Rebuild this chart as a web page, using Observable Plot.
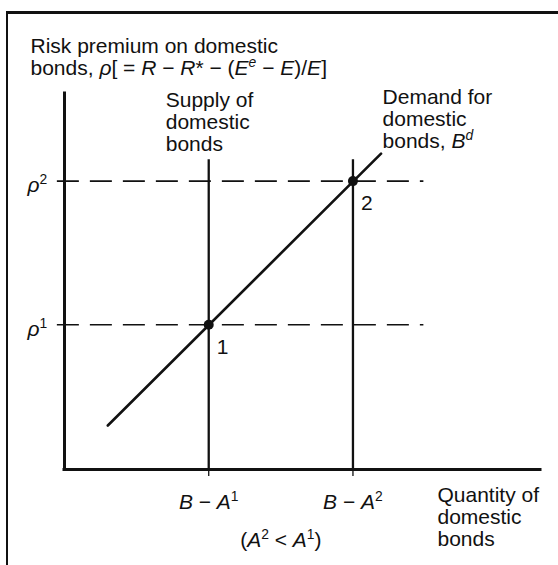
<!DOCTYPE html>
<html>
<head>
<meta charset="utf-8">
<script src="https://cdn.jsdelivr.net/npm/d3@7"></script>
<script src="https://cdn.jsdelivr.net/npm/@observablehq/plot@0.6"></script>
<style>
  html, body { margin: 0; padding: 0; background: #fff; }
  #wrap { position: relative; width: 558px; height: 565px; overflow: hidden; }
  #frame { position: absolute; left: 6px; top: 11px; width: 560px; height: 551px;
           border-left: 2.5px solid #111; border-top: 3px solid #111; border-bottom: 1px solid #888; box-sizing: content-box; }
  #chart { position: absolute; left: 0; top: 0; }
</style>
</head>
<body>
<div id="wrap"><div id="frame"></div><div id="chart"></div></div>
<script>
// ---- data ----
const yTitle = "Risk premium on domestic\nbonds, {i:ρ}[ = {i:R} − {i:R}* − ({i:E}{si:e} − {i:E})/{i:E}]";
const xTitle = "Quantity of\ndomestic\nbonds";
const supplyTitle = "Supply of\ndomestic\nbonds";
const demandTitle = "Demand for\ndomestic\nbonds, {i:B}{si:d}";
const noteLabel = "({i:A}{s:2} < {i:A}{s:1})";

const supplyLabels = ["{i:B} − {i:A}{s:1}", "{i:B} − {i:A}{s:2}"];
const supplyX = [30.3, 60.6];        // B − A¹, B − A²
const supplyTop = 82.4;              // top of the vertical supply lines
const rhoLabels = ["{i:ρ}{s:1}", "{i:ρ}{s:2}"];
const rhoY = [38.5, 76.7];           // ρ¹, ρ²
const pointLabels = ["1", "2"];
const demandX = [9.1, 66.5];         // demand line end points
const demandY = [11.7, 84.0];
const guideX = [-1.5, 75.5];         // extent of dashed guides
const axisMax = 100;

// ---- tables built from the arrays ----
const points = pointLabels.map((label, i) => ({label, x: supplyX[i], y: rhoY[i]}));
const demand = demandX.map((x, i) => ({x, y: demandY[i]}));
const demandEnd = [demand[demand.length - 1]];
const rhos = rhoY.map((y, i) => ({y, label: rhoLabels[i]}));
const supplies = supplyX.map((x, i) => ({x, label: supplyLabels[i]}));

const FS = 21;
const font = "'Liberation Sans', Arial, Helvetica, sans-serif";

const chart = Plot.plot({
  width: 558,
  height: 565,
  marginLeft: 64,
  marginRight: 18,
  marginTop: 93,
  marginBottom: 96,
  x: {domain: [0, axisMax]},
  y: {domain: [0, axisMax], axis: null},
  style: {fontFamily: font, fontSize: FS + "px", background: "transparent", color: "#111", overflow: "visible"},
  marks: [
    // dashed guides
    Plot.ruleY(rhos, {y: "y", x1: guideX[0], x2: guideX[1], stroke: "#111", strokeWidth: 1.6, strokeDasharray: "22,11"}),
    // supply verticals
    Plot.ruleX(supplies, {x: "x", y1: 0, y2: supplyTop, stroke: "#111", strokeWidth: 2.3}),
    // demand line
    Plot.line(demand, {x: "x", y: "y", stroke: "#111", strokeWidth: 2.6}),
    // axes lines
    Plot.ruleX([0], {y1: 0, y2: axisMax, stroke: "#111", strokeWidth: 3, strokeLinecap: "square"}),
    Plot.ruleY([0], {x1: 0, x2: axisMax, stroke: "#111", strokeWidth: 3, strokeLinecap: "square"}),
    Plot.axisX({ticks: supplyX, tickSize: 7, tickFormat: () => "", strokeWidth: 1.3, label: null}),
    // equilibrium points
    Plot.dot(points, {x: "x", y: "y", r: 5, fill: "#111", stroke: "none"}),
    Plot.text(points, {x: "x", y: "y", text: "label", dx: 8, dy: 29, textAnchor: "start", lineAnchor: "bottom", fontSize: FS}),
    // rho labels
    Plot.text(rhos, {y: "y", text: "label", frameAnchor: "left", dx: -37, dy: 11, textAnchor: "start", lineAnchor: "bottom", fontSize: FS}),
    // x tick labels
    Plot.text(supplies, {x: "x", text: "label", frameAnchor: "bottom", dy: 39, textAnchor: "middle", lineAnchor: "bottom", fontSize: FS}),
    Plot.text([noteLabel], {x: (supplyX[0] + supplyX[1]) / 2, text: d => d, frameAnchor: "bottom", dy: 77, textAnchor: "middle", lineAnchor: "bottom", fontSize: FS}),
    // titles
    Plot.text([yTitle], {text: d => d, frameAnchor: "top-left", dx: -34, dy: -19, textAnchor: "start", lineAnchor: "bottom", lineHeight: 1.03, fontSize: FS}),
    Plot.text([xTitle], {text: d => d, frameAnchor: "bottom-right", dx: -103, dy: 76, textAnchor: "start", lineAnchor: "bottom", lineHeight: 1.03, fontSize: FS}),
    Plot.text([supplies[0]], {x: "x", text: () => supplyTitle, frameAnchor: "top", dx: -43, dy: 57, textAnchor: "start", lineAnchor: "bottom", lineHeight: 1.03, fontSize: FS}),
    Plot.text(demandEnd, {x: "x", y: "y", text: () => demandTitle, dx: 1.5, dy: -6, textAnchor: "start", lineAnchor: "bottom", lineHeight: 1.03, fontSize: FS})
  ]
});

document.getElementById("chart").appendChild(chart);

// ---- rich text: {i:..} italic, {s:..} superscript, {si:..} italic superscript ----
const svgns = "http://www.w3.org/2000/svg";
function richify(root) {
  const nodes = [...root.querySelectorAll("text, tspan")].filter(n =>
    n.childNodes.length === 1 && n.firstChild.nodeType === 3 && n.textContent.includes("{"));
  for (const node of nodes) {
    const fs = parseFloat(getComputedStyle(node).fontSize) || FS;
    const src = node.textContent;
    const re = /\{(i|s|si):([^}]*)\}/g;
    const parts = [];
    let last = 0, m, raised = 0;
    const push = (txt, italic, sup) => {
      if (!txt) return;
      const t = document.createElementNS(svgns, "tspan");
      t.textContent = txt;
      if (italic) t.setAttribute("font-style", "italic");
      const target = sup ? -0.38 * fs : 0;
      if (target !== raised) { t.setAttribute("dy", (target - raised).toFixed(2)); raised = target; }
      if (sup) t.setAttribute("font-size", (0.66 * fs).toFixed(2));
      parts.push(t);
    };
    while ((m = re.exec(src))) {
      push(src.slice(last, m.index), false, false);
      push(m[2], m[1] !== "s", m[1] !== "i");
      last = re.lastIndex;
    }
    push(src.slice(last), false, false);
    if (node.tagName.toLowerCase() === "tspan") {
      // flatten: move the line tspan's positioning to its first part, then unwrap
      const first = parts[0];
      for (const a of ["x", "y", "dy"]) if (node.hasAttribute(a)) first.setAttribute(a, node.getAttribute(a));
      const parent = node.parentNode;
      for (const p of parts) parent.insertBefore(p, node);
      parent.removeChild(node);
    } else {
      node.textContent = "";
      for (const p of parts) node.appendChild(p);
    }
  }
}
richify(chart);
</script>
</body>
</html>
